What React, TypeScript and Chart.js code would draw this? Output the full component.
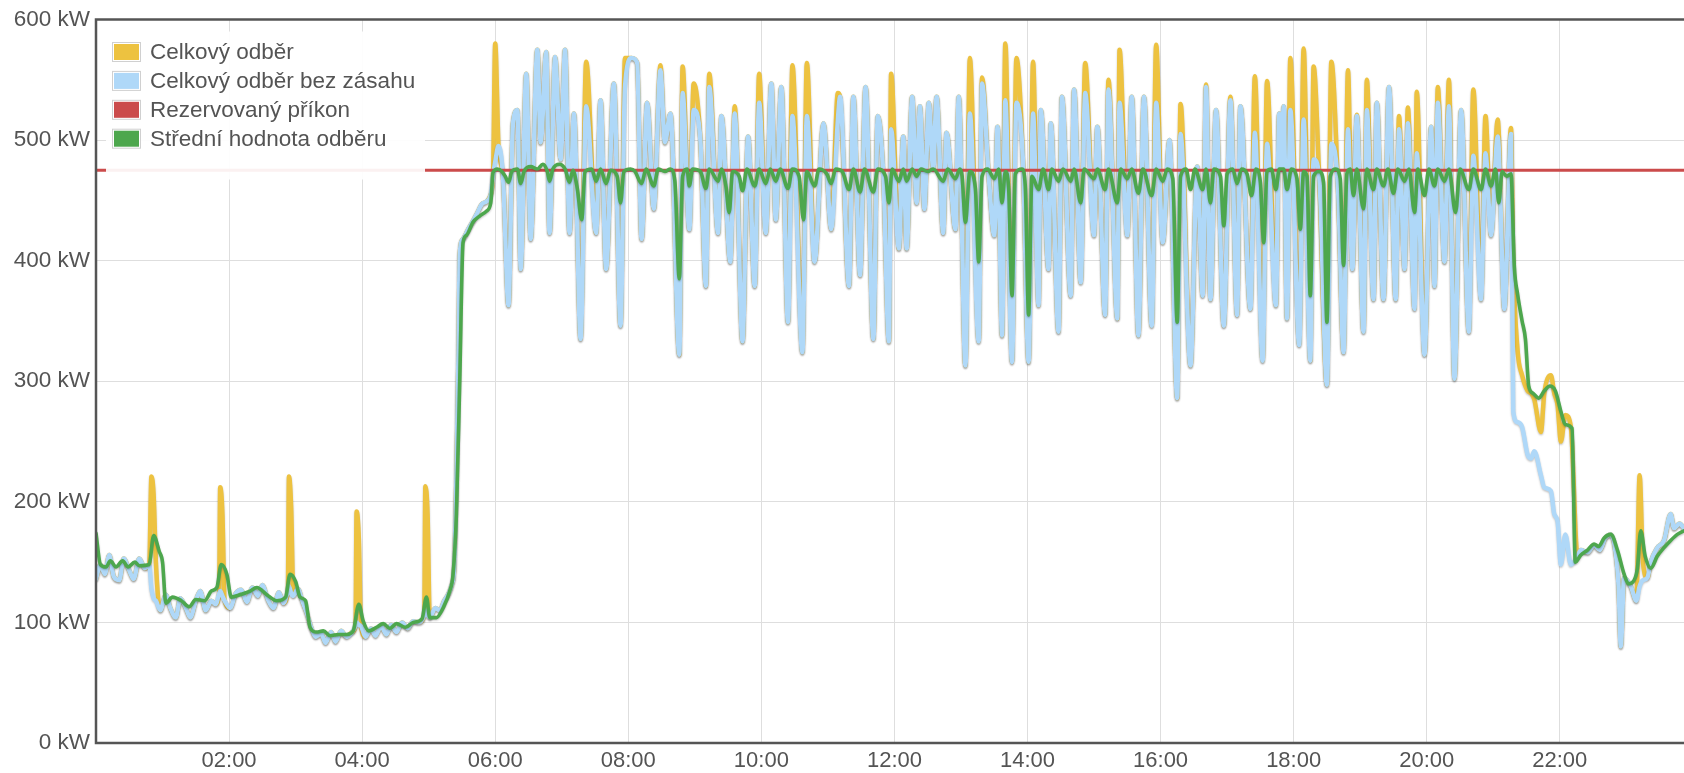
import { useEffect, useRef } from 'react';
import { Chart, registerables } from 'chart.js';

Chart.register(...registerables);

type P = [number, number];

// minutes since 00:00 , kW
const bezZasahu: P[] = [
  [0,136],[4,148],[8,140],[12,156],[16,138],[21,135],[25,153],[30,143],[34,136],[39,153],[44,145],[48,148],[50,128],[52,120],[54,118],[58,110],[63,123],[67,112],[72,104],[76,120],[81,112],[85,104],[90,118],[94,126],[99,110],[104,118],[108,115],[111,124],[112,126],[114,122],[116,118],[121,112],[126,124],[131,127],[136,117],[141,129],[146,122],[150,131],[155,119],[160,112],[165,125],[169,116],[173,126],[174,130],[176,124],[178,122],[182,128],[186,118],[190,108],[194,96],[198,88],[203,91],[207,83],[212,92],[216,84],[221,93],[226,88],[231,92],[234,97],[235,100],[237,98],[239,97],[243,88],[248,95],[252,89],[257,97],[262,90],[266,98],[271,92],[276,100],[281,95],[286,101],[291,100],[296,106],[297,110],[299,106],[301,104],[306,112],[310,110],[314,118],[318,124],[321,132],[323,145],[325,220],[327,330],[328,405],[331,418],[335,425],[340,433],[344,440],[348,447],[352,449],[356,455],[358,470],
  [360,482],[363,495],[367,470],[372,363],[376,514],[380,525],[383,393],[388,555],[392,418],[398,575],[401,498],[406,573],[409,423],[414,569],[419,484],[423,575],[427,423],[431,522],[437,335],[442,528],[451,423],[455,533],[460,393],[467,547],[473,346],[477,544],[483,568],[488,564],[492,418],[497,531],[503,443],[509,558],[513,498],[518,522],[526,322],[529,539],[535,426],[539,525],[545,500],[550,379],[553,544],[561,423],[564,520],[572,399],[576,522],[583,333],[588,503],[594,379],[598,531],[604,423],[609,547],[613,434],[618,544],[624,349],[628,520],[637,324],[641,520],[648,399],[656,514],[663,426],[669,517],
  [671,536],[679,379],[683,536],[689,388],[694,544],[701,335],[705,520],[710,470],[715,333],[717,509],[724,410],[728,503],[731,410],[736,536],[740,448],[743,528],[747,443],[751,531],[755,476],[758,536],[764,423],[767,506],[775,426],[778,536],[784,313],[788,522],[796,333],[799,547],[805,470],[810,421],[813,511],[817,338],[820,533],[826,316],[830,531],[836,480],[841,316],[845,522],[850,363],[852,525],[859,393],[861,514],[868,341],[871,536],[879,371],[882,542],[888,382],[892,539],[900,421],[903,511],[910,355],[913,542],[921,352],[923,531],[930,421],[934,536],[940,338],[945,536],[952,346],[956,531],[962,415],[968,500],[975,286],[978,505],[987,313],[993,478],[998,371],[1001,544],[1005,368],[1010,525],[1017,346],[1023,533],[1029,355],[1032,528],[1041,360],
  [1045,506],[1052,317],[1056,497],[1064,363],[1067,522],[1069,476],[1071,528],[1074,352],[1077,525],[1085,330],[1089,517],[1095,317],[1098,484],[1103,470],[1110,297],[1114,497],[1120,460],[1125,324],[1129,509],[1133,393],[1137,520],[1143,341],[1146,525],[1152,368],[1155,531],[1161,368],[1166,544],[1172,368],[1175,509],[1180,393],[1183,514],[1189,360],[1191,489],[1198,322],[1204,511],[1207,379],[1210,531],[1216,399],[1220,528],[1225,302],[1231,525],[1238,341],[1242,487],[1249,368],[1253,489],[1258,421],[1264,503],[1270,360],[1276,505],
  [1278,275],[1282,266],[1286,262],[1291,239],[1294,236],[1297,242],[1303,222],[1306,212],[1312,209],[1315,190],[1318,184],[1321,148],[1325,173],[1330,148],[1336,155],[1339,160],[1345,158],[1351,164],[1356,160],[1361,170],[1366,173],[1370,160],[1373,130],[1375,80],[1378,137],[1384,130],[1389,118],[1392,130],[1395,135],[1399,137],[1402,150],[1408,162],[1414,168],[1420,190],[1423,178],[1428,182],[1432,178]
];

const celkovyOdber: P[] = [
  [0,136],[4,148],[8,140],[12,156],[16,138],[21,135],[25,153],[30,143],[34,136],[39,153],[44,145],[48,148],[50,221],[52,205],[54,150],[58,110],[63,123],[67,112],[72,104],[76,120],[81,112],[85,104],[90,118],[94,126],[99,110],[104,118],[108,115],[111,124],[112,212],[114,190],[116,118],[121,112],[126,124],[131,127],[136,117],[141,129],[146,122],[150,131],[155,119],[160,112],[165,125],[169,116],[173,126],[174,221],[176,195],[178,122],[182,128],[186,118],[190,108],[194,96],[198,88],[203,91],[207,83],[212,92],[216,84],[221,93],[226,88],[231,92],[234,97],[235,192],[237,170],[239,97],[243,88],[248,95],[252,89],[257,97],[262,90],[266,98],[271,92],[276,100],[281,95],[286,101],[291,100],[296,106],[297,213],[299,190],[301,104],[306,112],[310,110],[314,118],[318,124],[321,132],[323,145],[325,220],[327,330],[328,405],[331,418],[335,425],[340,433],[344,440],[348,447],[352,449],[356,455],[358,470],
  [360,580],[363,495],[367,470],[372,363],[376,514],[380,525],[383,393],[388,555],[392,418],[398,575],[401,498],[406,573],[409,423],[414,569],[419,484],[423,575],[427,423],[431,522],[437,335],[442,565],[451,423],[455,533],[460,393],[467,547],[473,346],[477,568],[483,568],[488,564],[492,418],[497,531],[503,443],[509,562],[513,498],[518,522],[526,322],[529,561],[535,426],[539,547],[545,500],[550,379],[553,555],[561,423],[564,520],[572,399],[576,528],[583,333],[588,503],[594,379],[598,555],[604,423],[609,547],[613,434],[618,544],[624,349],[628,562],[637,324],[641,564],[648,399],[656,514],[663,426],[669,539],
  [671,536],[679,379],[683,536],[689,388],[694,544],[701,335],[705,520],[710,470],[715,333],[717,555],[724,410],[728,503],[731,410],[736,536],[740,448],[743,528],[747,443],[751,531],[755,476],[758,536],[764,423],[767,506],[775,426],[778,536],[784,313],[788,568],[796,333],[799,552],[805,470],[810,421],[813,511],[817,338],[820,580],[826,316],[830,568],[836,480],[841,316],[845,565],[850,363],[852,525],[859,393],[861,514],[868,341],[871,536],[879,371],[882,542],[888,382],[892,564],[900,421],[903,511],[910,355],[913,550],[921,352],[923,575],[930,421],[934,536],[940,338],[945,536],[952,346],[956,579],[962,415],[968,500],[975,286],[978,530],[987,313],[993,478],[998,371],[1001,546],[1005,368],[1010,525],[1017,346],[1023,536],[1029,355],[1032,528],[1041,360],
  [1045,553],[1052,317],[1056,549],[1064,363],[1067,522],[1069,476],[1071,528],[1074,352],[1077,568],[1085,330],[1089,576],[1095,317],[1098,561],[1103,470],[1110,297],[1114,565],[1120,460],[1125,324],[1129,558],[1133,393],[1137,521],[1143,341],[1146,550],[1152,368],[1155,531],[1161,368],[1166,544],[1172,368],[1175,520],[1180,393],[1183,527],[1189,360],[1191,540],[1198,322],[1204,511],[1207,379],[1210,544],[1216,399],[1220,550],[1225,302],[1231,525],[1238,341],[1242,542],[1249,368],[1253,520],[1258,421],[1264,517],[1270,360],[1276,510],
  [1278,400],[1282,325],[1286,305],[1291,292],[1294,290],[1297,285],[1303,258],[1306,290],[1312,305],[1315,290],[1318,280],[1321,250],[1325,272],[1330,262],[1336,155],[1339,160],[1345,158],[1351,164],[1356,160],[1361,170],[1366,173],[1370,160],[1373,130],[1375,80],[1378,137],[1384,130],[1389,118],[1392,222],[1395,150],[1399,137],[1402,150],[1408,162],[1414,168],[1420,190],[1423,178],[1428,182],[1432,178]
];

const stredniHodnota: P[] = [
  [0,174],[4,148],[9,146],[13,151],[18,146],[24,151],[29,146],[35,150],[39,147],[48,148],[52,172],[57,159],[60,150],[63,116],[69,121],[77,118],[84,113],[90,119],[98,118],[104,126],[109,129],[113,148],[118,140],[122,121],[130,123],[139,126],[145,129],[154,123],[163,118],[171,121],[175,140],[180,134],[184,121],[189,118],[193,96],[199,92],[205,93],[211,89],[219,90],[226,90],[232,93],[237,115],[241,101],[246,93],[253,96],[259,99],[265,95],[271,99],[279,96],[286,100],[294,103],[298,121],[301,104],[307,104],[313,112],[319,126],[322,140],[325,190],[328,300],[331,415],[334,421],[340,432],[346,437],[352,441],[356,448],[358,473],
  [362,476],[366,474],[369,470],[372,465],[375,474],[380,476],[383,464],[386,474],[392,478],[398,476],[403,480],[407,474],[409,466],[412,476],[418,480],[423,476],[427,465],[430,475],[434,460],[438,434],[441,474],[447,476],[451,466],[455,476],[460,464],[464,475],[470,470],[473,448],[476,474],[482,476],[486,474],[492,464],[496,476],[503,462],[507,476],[513,474],[518,476],[522,466],[526,385],[529,470],[533,476],[535,462],[538,476],[545,474],[550,460],[553,476],[561,466],[564,476],[568,462],[571,440],[574,474],[580,470],[583,458],[587,476],[594,462],[598,476],[604,464],[608,476],[613,466],[617,476],[624,460],[628,476],[634,470],[638,434],[641,474],[648,462],[652,476],[659,472],[663,464],[667,476],
  [673,474],[679,459],[683,476],[689,457],[693,476],[701,457],[705,476],[712,470],[715,448],[718,476],[724,466],[728,476],[731,466],[736,476],[740,470],[744,476],[750,474],[755,476],[764,466],[768,476],[775,468],[779,476],[781,470],[784,432],[788,474],[793,460],[796,399],[799,470],[804,476],[810,468],[814,476],[817,448],[820,474],[823,460],[826,371],[829,472],[835,476],[838,462],[841,355],[844,470],[850,459],[854,476],[859,459],[862,476],[868,466],[872,476],[879,466],[882,476],[888,448],[891,476],[900,468],[903,476],[910,459],[913,476],[921,448],[924,476],[930,468],[934,476],[940,456],[944,476],[952,454],[956,476],[962,466],[966,476],[971,468],[975,349],[978,470],[983,476],[987,459],[991,476],[998,459],[1001,476],[1005,448],[1008,476],[1014,470],[1017,429],[1020,472],[1025,476],[1029,464],[1033,476],[1038,472],[1042,454],
  [1046,476],[1050,465],[1053,415],[1056,474],[1060,476],[1064,459],[1067,476],[1071,476],[1074,459],[1078,476],[1083,468],[1086,426],[1089,474],[1092,470],[1095,371],[1098,470],[1103,474],[1107,465],[1110,349],[1113,470],[1118,476],[1122,468],[1125,396],[1128,472],[1131,476],[1134,454],[1137,476],[1143,443],[1146,476],[1152,459],[1155,476],[1161,462],[1165,476],[1170,456],[1174,476],[1180,466],[1184,476],[1189,440],[1192,476],[1198,454],[1202,476],[1207,462],[1210,476],[1216,466],[1220,476],[1226,440],[1230,476],[1238,459],[1242,476],[1249,459],[1253,476],[1258,462],[1262,476],[1265,448],[1268,474],[1272,470],[1276,472],
  [1279,395],[1282,372],[1286,350],[1289,335],[1292,296],[1296,290],[1301,286],[1306,292],[1311,296],[1316,292],[1321,275],[1325,264],[1331,261],[1334,150],[1339,156],[1345,160],[1351,165],[1355,163],[1360,170],[1366,173],[1372,160],[1378,140],[1382,132],[1387,135],[1390,145],[1393,176],[1397,155],[1402,145],[1408,155],[1414,162],[1420,168],[1426,173],[1432,176]
];

const rezervovanyPrikon: P[] = [[0,475],[1432,475]];

const seriesLabels = ['Celkový odběr', 'Celkový odběr bez zásahu', 'Rezervovaný příkon', 'Střední hodnota odběru'];
const seriesColors = ['#edc240', '#afd8f8', '#cb4b4b', '#4da74d'];

const xMin = 0;
const xMax = 1432;
const xTickMinutes = [0, 120, 240, 360, 480, 600, 720, 840, 960, 1080, 1200, 1320];
const yMin = 0;
const yMax = 600;
const yStep = 100;

const FONT = '"Liberation Sans", Arial, Helvetica, sans-serif';
const TEXT = '#545454';

const toXY = (arr: P[]) => arr.map(([x, y]) => ({ x, y }));

const pad2 = (n: number) => (n < 10 ? '0' + n : '' + n);

const shadowPlugin = {
  id: 'flotShadow',
  beforeDatasetDraw(chart: any, args: any) {
    const ctx = chart.ctx;
    ctx.save();
    if (args.index !== 2) {
      ctx.shadowColor = 'rgba(0,0,0,0.24)';
      ctx.shadowBlur = 2;
      ctx.shadowOffsetX = 0;
      ctx.shadowOffsetY = 1.2;
    }
  },
  afterDatasetDraw(chart: any) {
    chart.ctx.restore();
  },
};

const framePlugin = {
  id: 'flotFrame',
  afterDatasetsDraw(chart: any) {
    const { ctx, chartArea: a } = chart;
    ctx.save();
    ctx.strokeStyle = '#555';
    ctx.lineWidth = 2.5;
    ctx.beginPath();
    ctx.moveTo(a.right + 2, a.top);
    ctx.lineTo(a.left, a.top);
    ctx.lineTo(a.left, a.bottom);
    ctx.lineTo(a.right + 2, a.bottom);
    ctx.stroke();
    ctx.restore();
  },
};

const legendPlugin = {
  id: 'flotLegend',
  afterDraw(chart: any) {
    const { ctx, chartArea: a } = chart;
    const bx = a.left + 10;
    const by = a.top + 12;
    ctx.save();
    ctx.fillStyle = 'rgba(255,255,255,0.92)';
    ctx.fillRect(bx, by, 319, 148);
    ctx.font = `22.5px ${FONT}`;
    ctx.textBaseline = 'middle';
    chart.data.datasets.forEach((ds: any, i: number) => {
      const cy = by + 20.5 + i * 28.9;
      const sx = bx + 6;
      ctx.fillStyle = '#fff';
      ctx.fillRect(sx, cy - 10, 29, 20);
      ctx.strokeStyle = '#d0d0d0';
      ctx.lineWidth = 1;
      ctx.strokeRect(sx + 0.5, cy - 9.5, 28, 19);
      ctx.fillStyle = ds.borderColor;
      ctx.fillRect(sx + 2, cy - 8, 25, 16);
      ctx.fillStyle = TEXT;
      ctx.fillText(ds.label, bx + 44, cy + 1);
    });
    ctx.restore();
  },
};

export default function App() {
  const ref = useRef<HTMLCanvasElement | null>(null);

  useEffect(() => {
    document.body.style.margin = '0';
    document.body.style.overflow = 'hidden';
    const canvas = ref.current;
    if (!canvas) return;
    const common = {
      pointRadius: 0,
      pointHoverRadius: 0,
      fill: false,
      cubicInterpolationMode: 'monotone' as const,
      borderJoinStyle: 'round' as const,
      borderCapStyle: 'round' as const,
    };
    const chart = new Chart(canvas, {
      type: 'line',
      data: {
        datasets: [
          { ...common, label: seriesLabels[0], data: toXY(celkovyOdber), borderColor: seriesColors[0], backgroundColor: seriesColors[0], borderWidth: 4.5, order: 3 },
          { ...common, label: seriesLabels[1], data: toXY(bezZasahu), borderColor: seriesColors[1], backgroundColor: seriesColors[1], borderWidth: 4.5, order: 2 },
          { ...common, label: seriesLabels[2], data: toXY(rezervovanyPrikon), borderColor: seriesColors[2], backgroundColor: seriesColors[2], borderWidth: 3.2, order: 1, cubicInterpolationMode: 'default' as const },
          { ...common, label: seriesLabels[3], data: toXY(stredniHodnota), borderColor: seriesColors[3], backgroundColor: seriesColors[3], borderWidth: 3.6, order: 0 },
        ],
      },
      options: {
        responsive: false,
        animation: false,
        devicePixelRatio: 1,
        layout: { padding: { top: 16, left: 0, right: 0, bottom: 0 } },
        plugins: {
          legend: { display: false },
          tooltip: { enabled: false },
        },
        scales: {
          x: {
            type: 'linear',
            min: xMin,
            max: xMax,
            grid: { color: '#dedede', lineWidth: 1, drawTicks: false },
            border: { display: false },
            afterBuildTicks: (s: any) => {
              s.ticks = xTickMinutes.map((value) => ({ value }));
            },
            ticks: {
              autoSkip: false,
              maxRotation: 0,
              padding: 5,
              color: TEXT,
              font: { family: FONT, size: 22 },
              callback: (v: any) => {
                const m = Number(v);
                if (m === 0) return '';
                return pad2(Math.floor(m / 60)) + ':' + pad2(m % 60);
              },
            },
            afterFit: (s: any) => { s.height = 30; },
          },
          y: {
            type: 'linear',
            min: yMin,
            max: yMax,
            grid: { color: '#dedede', lineWidth: 1, drawTicks: false },
            border: { display: false },
            ticks: {
              stepSize: yStep,
              padding: 6,
              color: TEXT,
              font: { family: FONT, size: 22.5 },
              callback: (v: any) => `${v} kW`,
            },
            afterFit: (s: any) => { s.width = 96; },
          },
        },
      },
      plugins: [shadowPlugin, framePlugin, legendPlugin],
    });
    return () => chart.destroy();
  }, []);

  return (
    <div style={{ width: 1684, height: 773 }}>
      <canvas ref={ref} width={1684} height={773} style={{ display: 'block' }} />
    </div>
  );
}
